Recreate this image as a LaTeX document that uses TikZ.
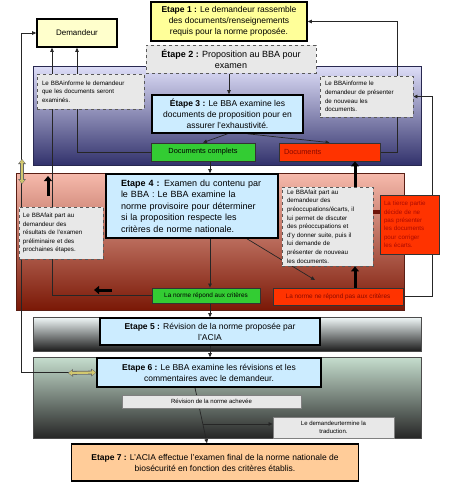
\documentclass[tikz,border=0pt]{standalone}
\usepackage{fontspec}
\setmainfont{Liberation Sans}
\usetikzlibrary{arrows.meta,calc}
\definecolor{yel}{HTML}{FFFF99}
\definecolor{paleyel}{HTML}{FFFFCC}
\definecolor{stepblue}{HTML}{CCECFF}
\definecolor{notegray}{HTML}{E8E8E8}
\definecolor{grn}{HTML}{33CC33}
\definecolor{rd}{HTML}{FF3300}
\definecolor{orng}{HTML}{FFCC99}
\definecolor{dkred}{HTML}{8A0A00}
\definecolor{olive}{HTML}{D2C86E}
\pgfdeclarelayer{panels}
\pgfdeclarelayer{lines}
\pgfsetlayers{panels,lines,main}
\begin{document}
\begin{tikzpicture}[x=1pt,y=-1pt,
  stepbox/.style={draw=black, line width=1.6pt, fill=stepblue, inner sep=0pt, align=center, font=\fontsize{8.5}{11}\selectfont},
  note/.style={draw=black!65, dashed, line width=0.9pt, fill=notegray, inner sep=0pt, align=left, font=\fontsize{6.2}{8.6}\selectfont},
  flat/.style={draw=black!80, line width=0.8pt, inner sep=0pt, align=center, font=\fontsize{6.4}{8}\selectfont},
  arr/.style={draw=black!85, line width=0.7pt, -{Triangle[length=4pt,width=3.5pt]}},
  ln/.style={draw=black!85, line width=0.7pt},
  thickarr/.style={draw=black, line width=3pt, -{Triangle[length=5pt,width=8pt]}},
  dblout/.style={draw=black!60, line width=3.8pt, {Triangle[length=5pt,width=7.5pt]}-{Triangle[length=5pt,width=7.5pt]}},
  dblarr/.style={draw=olive, line width=2.2pt, {Triangle[length=3.6pt,width=5.2pt]}-{Triangle[length=3.6pt,width=5.2pt]}}
]
\useasboundingbox (0,0) rectangle (450,485);

% panels
\begin{pgfonlayer}{panels}
\fill[white] (0,0) rectangle (450,485);
\shade[top color={rgb,255:red,222;green,222;blue,248}, bottom color={rgb,255:red,50;green,50;blue,108}] (33,66) rectangle (421,165);
\draw[draw={rgb,255:red,40;green,40;blue,80}, line width=0.7pt] (33,66) rectangle (421,165);
\shade[top color={rgb,255:red,246;green,186;blue,172}, bottom color={rgb,255:red,122;green,24;blue,6}] (16,173) rectangle (404,310);
\draw[draw={rgb,255:red,90;green,30;blue,20}, line width=0.7pt] (16,173) rectangle (404,310);
\shade[top color={rgb,255:red,242;green,250;blue,250}, bottom color={rgb,255:red,28;green,28;blue,28}] (33,317) rectangle (421,351);
\draw[draw=black!70, line width=0.6pt] (33,317) rectangle (421,351);
\shade[top color={rgb,255:red,198;green,222;blue,206}, bottom color={rgb,255:red,38;green,38;blue,38}] (33,357) rectangle (421,438);
\draw[draw=black!70, line width=0.6pt] (33,357) rectangle (421,438);
\end{pgfonlayer}

% nodes
\node[stepbox, fill=yel, minimum width=156, minimum height=39] (e1) at (229,21.5) {{\bfseries Etape 1 :} Le demandeur rassemble\\des documents/renseignements\\requis pour la norme proposée.};
\node[stepbox, fill=paleyel, minimum width=80, minimum height=28, font=\fontsize{8}{10}\selectfont] (dem) at (77,33) {Demandeur};
\node[stepbox, fill=notegray, draw=black!65, dashed, line width=1pt, minimum width=170, minimum height=28, font=\fontsize{9}{11.5}\selectfont] (e2) at (231,59) {{\bfseries Étape 2 :} Proposition au BBA pour\\examen};
\node[note, minimum width=107, minimum height=35, text width=97] (n1) at (90.5,91.5) {Le BBAinforme le demandeur\\que les documents seront\\examinés.};
\node[note, minimum width=93, minimum height=41, text width=83] (n2r) at (366.5,96.5) {Le BBAinforme le\\demandeur de présenter\\de nouveau les\\documents.};
\node[stepbox, minimum width=151, minimum height=38] (e3) at (227.5,114) {{\bfseries Étape 3 :} Le BBA examine les\\documents de proposition pour en\\assurer l'exhaustivité.};
\node[flat, fill=grn, minimum width=104, minimum height=18, font=\fontsize{7.4}{9}\selectfont] (dc) at (203,152) {Documents complets};
\node[flat, fill=rd, minimum width=101, minimum height=18, font=\fontsize{7.4}{9}\selectfont, text=dkred, text width=91, align=left] (dr) at (329.5,152) {Documents};
\node[stepbox, minimum width=172, minimum height=64, text width=150, align=left, font=\fontsize{9}{11.6}\selectfont] (e4) at (192,206) {\hspace*{4pt}{\bfseries Etape 4 :} Examen du contenu par\\\hspace*{4pt}le BBA : Le BBA examine la\\\hspace*{4pt}norme provisoire pour déterminer\\\hspace*{4pt}si la proposition respecte les\\\hspace*{4pt}critères de norme nationale.};
\node[note, minimum width=84, minimum height=52, text width=76] (n3) at (61,233) {Le BBAfait part au\\demandeur des\\résultats de l'examen\\préliminaire et des\\prochaines étapes.};
\node[note, minimum width=91, minimum height=79, text width=81] (n4) at (327.5,226.5) {Le BBAfait part au\\demandeur des\\préoccupations/écarts, il\\lui permet de discuter\\des préoccupations et\\d'y donner suite, puis il\\lui demande de\\présenter de nouveau\\les documents.};
\node[flat, fill=rd, minimum width=59, minimum height=59, text width=51, align=left, text={rgb,255:red,170;green,10;blue,0}, font=\fontsize{6.2}{8.4}\selectfont] (rn) at (409.5,224.5) {La tierce partie\\décide de ne\\pas présenter\\les documents\\pour corriger\\les écarts.};
\node[flat, fill=grn, minimum width=108, minimum height=15] (ok) at (206,295.5) {La norme répond aux critères};
\node[flat, fill=rd, minimum width=130, minimum height=17, text=dkred] (nok) at (338,296.5) {La norme ne répond pas aux critères};
\node[stepbox, minimum width=220, minimum height=27] (e5) at (210,331.5) {{\bfseries Etape 5 :} Révision de la norme proposée par\\l'ACIA};
\node[stepbox, minimum width=224, minimum height=29] (e6) at (209,372.5) {{\bfseries Etape 6 :} Le BBA examine les révisions et les\\commentaires avec le demandeur.};
\node[flat, fill=notegray, draw=black!50, minimum width=179, minimum height=13, font=\fontsize{6}{7.5}\selectfont] (rev) at (211.5,401.5) {Révision de la norme achevée};
\node[flat, fill=notegray, draw=black!50, minimum width=121, minimum height=21, font=\fontsize{6}{7.8}\selectfont] (trad) at (333.5,427.5) {Le demandeurtermine la\\traduction.};
\node[stepbox, fill=orng, minimum width=287, minimum height=37] (e7) at (215,462.5) {{\bfseries Etape 7 :} L'ACIA effectue l'examen final de la norme nationale de\\biosécurité en fonction des critères établis.};

% helper coordinates
\coordinate (spine) at (210,0);
\coordinate (lft) at (21,0);
\coordinate (rgt) at (432,0);
\coordinate (thk) at (355,0);
\coordinate (rnlink) at (0,212);
\coordinate (e4tip) at (315,280);
\coordinate (tr0) at (203,424);

% connectors
\begin{pgfonlayer}{lines}
\draw[arr] (e2.south -| 229,0) -- (e3.north -| 229,0);
\draw[arr] (e3.south) -- (dc.north);
\draw[arr] ($(e3.south)+(20,0)$) -- (dr.north);
\draw[arr] (dc.south -| spine) -- (e4.north -| spine);
\draw[arr] (e4.south -| spine) -- (ok.north -| spine);
\draw[arr] (ok.south -| spine) -- (e5.north -| spine);
\draw[arr] (e5.south -| spine) -- (e6.north -| spine);
\draw[arr] ($(e6.south)+(-14,0)$) -- ($(e7.north)+(-8,0)$);
\draw[arr] (tr0) -- (tr0 -| trad.west);
\draw[arr] (dc.west) -| (dem.south);
\draw[arr] (ok.west) -| ($(dem.south)+(-25,0)$);
\draw[arr] (e6.west) -- (e6.west -| lft) -- (dem.west -| lft) -- (dem.west);
\draw[arr] ($(n2r.north)+(30.5,0)$) |- (e1.east);
\draw[ln] (dr.east) -| ($(n2r.south)+(30.5,0)$);
\draw[arr] (nok.east) -- (nok.east -| rgt) -- (n2r.east -| rgt) -- (n2r.east);
\draw[arr] ($(e4.south)+(55,0)$) -- (e4tip);
\end{pgfonlayer}
\draw[thickarr] (n4.north -| thk) -- (dr.south -| thk);
\draw[thickarr] (nok.north -| thk) -- (n4.south -| thk);
\draw[draw={rgb,255:red,110;green,20;blue,10}, line width=4pt] (n4.east |- rnlink) -- (rn.west |- rnlink);

% decorative block arrows
\draw[thickarr] (48,196) -- (48,176);
\draw[thickarr] (112,290) -- (94,290);
\draw[dblout] (22,159) -- (22,184);
\draw[dblarr] (22,159.6) -- (22,183.4);
\draw[dblout] (68,373) -- (e6.west);
\draw[dblarr] (68.6,373) -- ($(e6.west)+(-0.6,0)$);
\end{tikzpicture}
\end{document}
